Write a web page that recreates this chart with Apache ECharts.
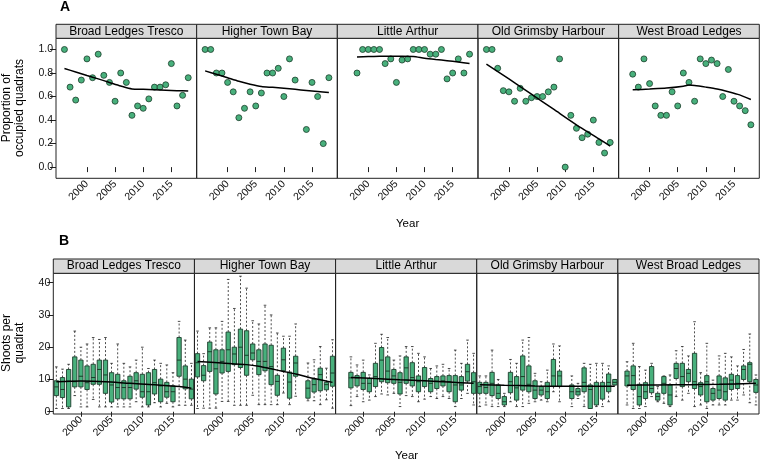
<!DOCTYPE html>
<html><head><meta charset="utf-8">
<script src="https://cdn.jsdelivr.net/npm/echarts@6/dist/echarts.min.js"></script>
<style>html,body{margin:0;padding:0;background:#fff}#c{width:760px;height:464px}</style>
</head><body><div id="c"></div>
<script>
// ---------- categories / ticks ----------
const years = ['1996','1997','1998','1999','2000','2001','2002','2003','2004','2005','2006','2007','2008','2009','2010','2011','2012','2013','2014','2015','2016','2017','2018'];
const sites = ['Broad Ledges Tresco','Higher Town Bay','Little Arthur','Old Grimsby Harbour','West Broad Ledges'];
const xTickYears = [2000, 2005, 2010, 2015];
const xTickLabels = ['2000','2005','2010','2015'];
const propTicks = [0, 0.2, 0.4, 0.6, 0.8, 1.0];
const shootTicks = [0, 10, 20, 30, 40];

// ---------- Panel A: proportion of occupied quadrats (1996..2018) ----------
const propBLT = [1.0,0.68,0.57,0.74,0.92,0.76,0.96,0.78,0.72,0.56,0.80,0.72,0.44,0.52,0.50,0.58,0.68,0.68,0.70,0.88,0.52,0.61,0.76];
const propHTB = [1.0,1.0,0.80,0.80,0.72,0.64,0.42,0.50,0.64,0.52,0.63,0.80,0.80,0.84,0.60,0.92,0.74,null,0.32,0.72,0.60,0.20,0.76];
const propLA  = [null,null,0.80,1.0,1.0,1.0,1.0,0.88,0.92,0.72,0.91,0.92,1.0,1.0,1.0,0.96,0.96,1.0,0.75,0.80,0.92,0.80,0.96];
const propOGH = [1.0,1.0,0.84,0.65,0.64,0.56,0.67,0.56,0.59,0.60,0.60,0.64,0.68,0.92,0.0,0.44,0.33,0.25,0.28,0.40,0.21,0.12,0.21];
const propWBL = [null,0.79,0.68,0.92,0.71,0.52,0.44,0.44,0.64,0.52,0.80,0.72,0.56,0.92,0.88,0.91,0.88,0.60,0.83,0.56,0.52,0.48,0.36];

// smoothed trend lines [year, value]
const fitBLT = [[1996,0.838],[1998,0.809],[2000,0.779],[2002,0.75],[2004,0.72],[2006,0.69],[2008,0.665],[2010,0.662],[2012,0.658],[2014,0.654],[2016,0.65],[2018,0.646]];
const fitHTB = [[1996,0.818],[1998,0.79],[2000,0.76],[2002,0.73],[2004,0.705],[2006,0.685],[2008,0.678],[2010,0.67],[2012,0.661],[2014,0.652],[2016,0.643],[2018,0.634]];
const fitLA  = [[1998,0.937],[2000,0.94],[2002,0.942],[2004,0.943],[2006,0.943],[2008,0.94],[2010,0.926],[2012,0.915],[2014,0.905],[2016,0.893],[2018,0.881]];
const fitOGH = [[1996,0.875],[2000,0.75],[2004,0.62],[2008,0.49],[2012,0.36],[2016,0.24],[2018,0.178]];
const fitWBL = [[1997,0.657],[2000,0.664],[2003,0.672],[2006,0.688],[2007,0.697],[2008,0.694],[2010,0.68],[2012,0.664],[2014,0.641],[2016,0.614],[2018,0.575]];

// ---------- Panel B: shoots per quadrat boxes [low, q1, median, q3, high] (1996..2018) ----------
const boxBLT = [[1,5.0,7.7,9.6,13.9],[1,4.4,6.9,10.6,13.2],[1,1.5,9.5,13.1,14.7],[5,7.7,9.3,17,25],[1.5,7.7,11,16,20],[1.5,6.9,9,14.2,21],[3.8,8.5,10.6,14.7,23],[1.5,8.5,13.1,16,22.4],[1.5,5.7,11.4,16,23],[1.5,3,8.3,12.1,15],[1.5,4,7.5,11.6,21],[1.5,4,7.5,9.6,15],[1.5,4,7.5,11,13.9],[3.1,7,9.6,12.1,16],[1.5,4.5,6.2,11.6,20],[1.5,2.1,6.2,12.1,13.4],[2.8,5.5,9,13.1,16],[1.5,3.1,8,10.1,15],[2.6,4.5,6.2,9.1,14.5],[1.5,3.1,6.2,8,12.1],[2,11,16,23,28],[2,7.1,10.1,14.2,22.2],[2,4,7,10.1,15]];
const boxHTB = [[1,10.8,15.2,18,25],[1.1,9.6,11.3,14.3,18],[1.1,12.5,18.6,21.6,26],[1.1,5.5,13.3,19.2,26],[3.2,12,15.6,19.2,28],[3.2,12.5,19.2,24.7,41],[2,14.6,17.9,20,32],[2,13.7,20,25.6,42],[2,11.3,17.5,25.1,38.3],[5.1,16.1,18.2,21,28.2],[2.2,11.5,15.6,19.2,27.2],[2.2,12.7,15.6,21,33],[2.2,8.4,14,20.6,30],[2.2,5.1,9.4,11.3,24.4],[5.8,12.7,16.1,19.7,23.4],[2.2,4.2,9.2,12.3,23.4],[4.8,11,15.1,17.2,27.2],null,[3.4,4.2,7.3,9.6,15.1],[3.4,6.1,8.4,10.1,16.1],[2.2,6.5,11.5,13.5,20.2],[3.7,6.8,8.4,9.1,13.5],[1.1,7.9,12,17.2,22.3]];
const boxLA  = [null,null,[1.9,7.4,10.5,12.2,17],[4.7,8,10.5,11.2,14.5],[3.1,6.9,8.8,12.2,16],[3.6,6.2,8.8,10.3,11.4],[4.7,7.8,10.9,15,21.2],[5.5,9.3,16,19.9,24],[5.2,9,12.6,17,23],[5.7,8.8,11.1,13.1,16],[1.6,5.5,9.1,12.1,17.3],[5,8.8,13.6,17,20.2],[4.7,8,10.6,15.2,20.2],[3.1,6.2,9.3,11.1,18.1],[3.9,7.8,9.6,13.7,17],[4.7,6.2,8.8,10.3,13.4],[4.1,7.2,9.5,10.9,14.2],[4.7,8,9.6,11.1,14.7],[4.1,6.2,9.3,11.2,13.4],[1.6,3.1,8.3,11.2,19.1],[4.1,6.7,8.3,10.9,15],[5.7,9.5,12.4,14.7,22.2],[2.1,5.7,9.3,12.1,18.1]];
const boxOGH = [[1.6,5.7,7.8,9.1,11.1],[2.1,5.7,7.5,9.1,11.1],[1.6,5,8.8,12.2,19.1],[1.6,4.1,5.7,8.3,10],[1.6,2.1,3.1,4.7,5.7],[3.1,5.9,9.3,12.2,16.2],[1.6,3.6,7.4,10.9,15],[1.6,6.7,10.9,17.3,22.2],[2.6,6.2,8.5,14.2,23],[3.1,4.1,6.7,9.6,11.9],[3.6,5.2,6.7,7.8,9.3],[3.1,4.1,6.2,9.1,12.9],[6.2,7.8,11.1,16.2,21],[3.1,7.8,11.1,12.6,20.4],null,[1.6,4.1,6.2,8.3,11.1],[4.1,5.2,6.2,7.2,8.8],[1.6,6.2,9.1,13.6,15],[1,1,6.9,8.3,14.7],[1.6,2.1,7.8,9.1,15],[1.6,3.9,7.8,9.1,15],[3.1,6.2,9.1,11.7,14.2],[8.3,8.3,9.1,10,10]];
const boxWBL = [null,[2.1,8,11.1,12.6,15.5],[1,6.9,11.2,14.2,21.2],[1,2.1,4.7,8.5,14],[1.6,4.1,6.2,9,12.9],[4.7,5.9,7.2,14,15],[3.1,3.6,4.7,5.7,7.8],[2.6,5.7,8.8,10.9,11.1],[1.6,2.1,5.2,8.3,11.4],[4.7,10.3,13.4,15,18.9],[3.6,7.8,10.9,15,20.2],[5.7,9.3,11.9,13.1,17.3],[1.6,7.2,9.3,18.1,27.9],[2.1,5.2,7.8,9,12.1],[1,3.1,9.3,11.2,21.2],[2.1,3.6,5.7,7.2,9.8],[2.1,4.1,6.7,11.1,17.3],[2.1,3.6,6.2,10.5,18.1],[3.6,6.9,9.8,11.6,17],[3.6,7.2,8.8,11.2,14.2],[5.2,10,13.1,14.2,19.3],[2.8,9.3,14.7,15.2,24.1],[2.1,6,8.3,10,11.4]];

const shootFitBLT = [['1996',9.3],['2000',9.5],['2004',9.3],['2008',8.8],['2012',8.4],['2016',7.8],['2018',7.3]];
const shootFitHTB = [['1996',15.6],['2000',15.1],['2004',14.6],['2006',14.1],['2008',13.3],['2010',12.5],['2012',11.7],['2014',10.7],['2016',9.9],['2018',9.1]];
const shootFitLA  = [['1998',10.6],['2002',10.3],['2006',9.9],['2010',9.6],['2014',9.2],['2018',8.8]];
const shootFitOGH = [['1996',8.4],['2000',8.2],['2005',8.0],['2010',7.9],['2015',7.9],['2018',7.9]];
const shootFitWBL = [['1997',8.2],['2002',8.3],['2007',8.4],['2012',8.5],['2018',8.8]];

const propAll = [propBLT, propHTB, propLA, propOGH, propWBL];
const fitAll = [fitBLT, fitHTB, fitLA, fitOGH, fitWBL];
const boxAll = [boxBLT, boxHTB, boxLA, boxOGH, boxWBL];
const shootFitAll = [shootFitBLT, shootFitHTB, shootFitLA, shootFitOGH, shootFitWBL];

// ---------- chart ----------
const FONT = 'Liberation Sans, Arial, Helvetica, sans-serif';
const GREEN = '#48b07c';
const DARK = '#1c3d2b';
const TICKFS = 10.5;
const chart = echarts.init(document.getElementById('c'), null, {renderer: 'canvas'});
const grids = [], xAxes = [], yAxes = [], series = [], graphics = [];
const PA = {left: 56, top: 38.3, w: 140.66, h: 140, stripH: 14};
const PB = {left: 53.3, top: 273.3, w: 141.14, h: 140.7, stripH: 14.3};

function strip(P, i) {
  const x = P.left + i * P.w;
  graphics.push({type: 'rect', shape: {x: x, y: P.top - P.stripH, width: P.w, height: P.stripH},
    style: {fill: '#d9d9d9', stroke: '#222', lineWidth: 1}, z: 10});
  graphics.push({type: 'text', x: x + P.w / 2, y: P.top - P.stripH / 2,
    style: {text: sites[i], font: '12px ' + FONT, fill: '#000', align: 'center', verticalAlign: 'middle',
      textAlign: 'center', textVerticalAlign: 'middle'}, z: 11});
}

for (let i = 0; i < 5; i++) {
  // ----- panel A : grid/axis index i -----
  grids[i] = {left: PA.left + i * PA.w, top: PA.top, width: PA.w, height: PA.h, show: true,
    borderColor: '#222', borderWidth: 1, backgroundColor: 'transparent'};
  xAxes[i] = {gridIndex: i, type: 'value', min: 1994.5, max: 2019.5,
    axisLine: {show: false}, splitLine: {show: false},
    axisTick: {show: true, customValues: xTickYears, length: 5, lineStyle: {color: '#222'}},
    axisLabel: {show: true, customValues: xTickYears, formatter: v => String(Math.round(v)), rotate: 45, fontSize: TICKFS, margin: 4, color: '#111', fontFamily: FONT}};
  yAxes[i] = {gridIndex: i, type: 'value', min: -0.095, max: 1.095,
    axisLine: {show: false}, splitLine: {show: false},
    axisTick: {show: i === 0, customValues: propTicks, length: 6, lineStyle: {color: '#222'}},
    axisLabel: {show: i === 0, customValues: propTicks, formatter: v => Number(v).toFixed(1), fontSize: TICKFS, margin: 3, color: '#111', fontFamily: FONT}};
  const pts = [];
  years.forEach((y, k) => { if (propAll[i][k] !== null) pts.push([Number(y), propAll[i][k]]); });
  series.push({type: 'scatter', xAxisIndex: i, yAxisIndex: i, data: pts, symbol: 'circle', symbolSize: 6,
    clip: false, itemStyle: {color: GREEN, borderColor: DARK, borderWidth: 0.8, opacity: 1}, z: 3});
  series.push({type: 'line', xAxisIndex: i, yAxisIndex: i, data: fitAll[i], smooth: 0.25, symbol: 'none',
    lineStyle: {color: '#000', width: 1.5}, z: 4});
  strip(PA, i);

  // ----- panel B : grid/axis index 5+i -----
  const g = 5 + i;
  grids[g] = {left: PB.left + i * PB.w, top: PB.top, width: PB.w, height: PB.h, show: true,
    borderColor: '#222', borderWidth: 1, backgroundColor: 'transparent'};
  const showTick = (idx, val) => xTickLabels.indexOf(String(val)) >= 0;
  xAxes[g] = {gridIndex: g, type: 'category', data: years, boundaryGap: true,
    axisLine: {show: false}, splitLine: {show: false},
    axisTick: {show: true, interval: showTick, alignWithLabel: true, length: 5, lineStyle: {color: '#222'}},
    axisLabel: {show: true, interval: showTick, rotate: 45, fontSize: TICKFS, margin: 4, color: '#111', fontFamily: FONT}};
  yAxes[g] = {gridIndex: g, type: 'value', min: -0.7, max: 42.9,
    axisLine: {show: false}, splitLine: {show: false},
    axisTick: {show: i === 0, customValues: shootTicks, length: 6, lineStyle: {color: '#222'}},
    axisLabel: {show: i === 0, customValues: shootTicks, fontSize: TICKFS, margin: 3, color: '#111', fontFamily: FONT}};
  const bdata = [];
  years.forEach((y, k) => { const b = boxAll[i][k]; if (b) bdata.push([y].concat(b)); });
  series.push({type: 'custom', xAxisIndex: g, yAxisIndex: g, data: bdata, encode: {x: 0, y: [1, 2, 3, 4, 5]}, z: 2,
    renderItem: function (params, api) {
      const xv = api.value(0);
      const pL = api.coord([xv, api.value(1)]);
      const p1 = api.coord([xv, api.value(2)]);
      const pM = api.coord([xv, api.value(3)]);
      const p3 = api.coord([xv, api.value(4)]);
      const pH = api.coord([xv, api.value(5)]);
      const bw = api.size([1, 0])[0] * 0.7;
      const h = bw / 2, cx = pM[0];
      const dash = {stroke: '#222', lineWidth: 0.8, lineDash: [2, 2]};
      const solid = {stroke: '#222', lineWidth: 0.8};
      return {type: 'group', children: [
        {type: 'line', shape: {x1: cx, y1: p3[1], x2: cx, y2: pH[1]}, style: dash},
        {type: 'line', shape: {x1: cx, y1: p1[1], x2: cx, y2: pL[1]}, style: dash},
        {type: 'line', shape: {x1: cx - 1.3, y1: pH[1], x2: cx + 1.3, y2: pH[1]}, style: solid},
        {type: 'line', shape: {x1: cx - 1.3, y1: pL[1], x2: cx + 1.3, y2: pL[1]}, style: solid},
        {type: 'rect', shape: {x: cx - h, y: p3[1], width: bw, height: Math.max(p1[1] - p3[1], 0.5)},
          style: {fill: GREEN, stroke: DARK, lineWidth: 0.9}},
        {type: 'line', shape: {x1: cx - h, y1: pM[1], x2: cx + h, y2: pM[1]}, style: {stroke: DARK, lineWidth: 1}}
      ]};
    }});
  series.push({type: 'line', xAxisIndex: g, yAxisIndex: g, data: shootFitAll[i], smooth: 0.25, symbol: 'none',
    connectNulls: true, lineStyle: {color: '#000', width: 1.5}, z: 5});
  strip(PB, i);
}

function txt(x, y, text, size, opts) {
  graphics.push(Object.assign({type: 'text', x: x, y: y,
    style: {text: text, font: (opts && opts.bold ? 'bold ' : '') + size + 'px ' + FONT, fill: '#000',
      align: 'center', verticalAlign: 'middle', textAlign: 'center', textVerticalAlign: 'middle',
      lineHeight: opts && opts.lh ? opts.lh : size + 1}}, opts && opts.rot ? {rotation: opts.rot} : {}));
}
txt(65, 7.5, 'A', 14, {bold: true});
txt(64, 241.5, 'B', 14, {bold: true});
txt(13, 108, 'Proportion of\noccupied quadrats', 12, {rot: Math.PI / 2, lh: 13});
txt(13, 343, 'Shoots per\nquadrat', 12, {rot: Math.PI / 2, lh: 13});
txt(407.6, 223.5, 'Year', 11.5);
txt(406.5, 456, 'Year', 11.5);

chart.setOption({
  animation: false,
  backgroundColor: '#fff',
  grid: grids, xAxis: xAxes, yAxis: yAxes, series: series,
  graphic: graphics
});
</script></body></html>
